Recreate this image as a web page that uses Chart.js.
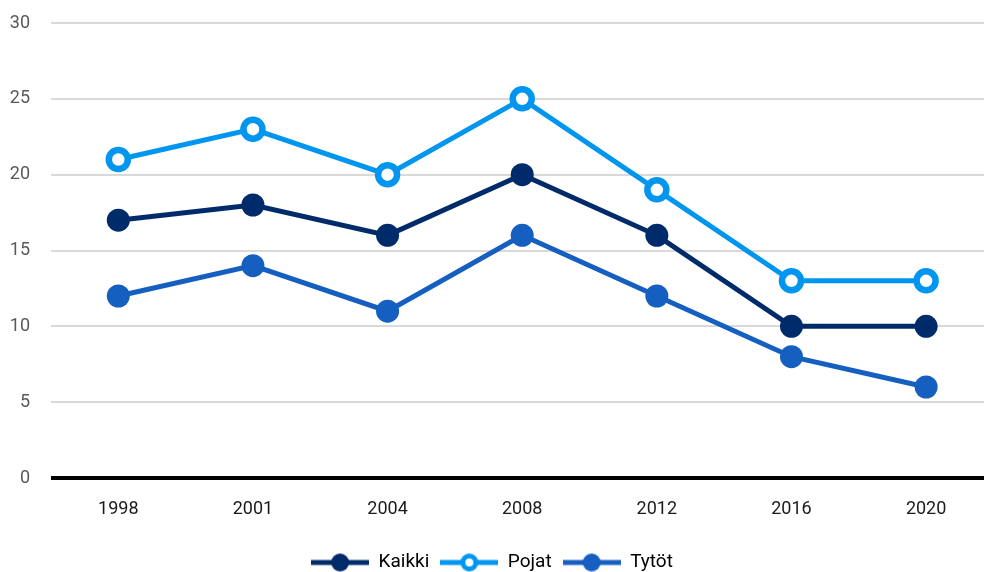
<!DOCTYPE html>
<html>
<head>
<meta charset="utf-8">
<script src="https://cdn.jsdelivr.net/npm/chart.js@4"></script>
<style>
  html, body { margin: 0; padding: 0; background: #fff; }
  #wrap { width: 984px; height: 572px; }
</style>
</head>
<body>
<div id="wrap"><canvas id="lineChart"></canvas></div>
<script>
const years = ['1998', '2001', '2004', '2008', '2012', '2016', '2020'];
const kaikki = [17, 18, 16, 20, 16, 10, 10];
const pojat = [21, 23, 20, 25, 19, 13, 13];
const tytot = [12, 14, 11, 16, 12, 8, 6];
const yTicks = [0, 5, 10, 15, 20, 25, 30];

const FONT = '"Liberation Sans Narrow", Roboto, sans-serif';

const toPoints = (arr) => arr.map((v, i) => ({ x: i, y: v }));

// small canvas image: line with a circle in the middle, for the legend
const legendIcon = (color, hollow) => {
    const c = document.createElement('canvas');
    c.width = 58; c.height = 24;
    const g = c.getContext('2d');
    g.strokeStyle = color;
    g.lineWidth = 5;
    g.beginPath(); g.moveTo(0, 12); g.lineTo(58, 12); g.stroke();
    g.beginPath(); g.arc(29, 12, hollow ? 6.5 : 9, 0, Math.PI * 2);
    if (hollow) { g.fillStyle = '#fff'; g.fill(); g.lineWidth = 5; g.stroke(); }
    else { g.fillStyle = color; g.fill(); }
    return c;
};

const series = [
    { label: 'Kaikki', data: kaikki, color: '#002b6b', hollow: false },
    { label: 'Pojat', data: pojat, color: '#0096f0', hollow: true },
    { label: 'Tytöt', data: tytot, color: '#155fc0', hollow: false }
];

const ctx = document.getElementById('lineChart').getContext('2d');
new Chart(ctx, {
    type: 'line',
    data: {
        datasets: series.map(s => ({
            label: s.label,
            data: toPoints(s.data),
            borderColor: s.color,
            backgroundColor: s.hollow ? '#ffffff' : s.color,
            pointBackgroundColor: s.hollow ? '#ffffff' : s.color,
            pointBorderColor: s.color,
            pointBorderWidth: s.hollow ? 6.5 : 0,
            pointRadius: s.hollow ? 9.5 : 11.5,
            pointHoverRadius: s.hollow ? 9.5 : 11.5,
            borderWidth: 5,
            tension: 0,
            clip: false,
            icon: legendIcon(s.color, s.hollow)
        }))
    },
    options: {
        responsive: true,
        maintainAspectRatio: false,
        animation: false,
        layout: { autoPadding: false, padding: { top: 23, right: 0, left: 0, bottom: -10 } },
        scales: {
            x: {
                type: 'linear',
                min: -0.5,
                max: 6.43,
                grid: { display: false },
                border: { display: false },
                afterBuildTicks: (scale) => {
                    scale.ticks = years.map((y, i) => ({ value: i }));
                },
                afterFit: (scale) => {
                    scale.paddingLeft = 0;
                    scale.paddingRight = 0;
                    scale.height = 64;
                },
                ticks: {
                    callback: (v) => years[v],
                    color: '#1a1a1a',
                    font: { family: FONT, size: 18 },
                    padding: 13,
                    maxRotation: 0
                }
            },
            y: {
                min: 0,
                max: 30,
                afterBuildTicks: (scale) => {
                    scale.ticks = yTicks.map(v => ({ value: v }));
                },
                afterFit: (scale) => {
                    scale.width = 51;
                    scale.paddingTop = 0;
                    scale.paddingBottom = 0;
                },
                grid: {
                    color: (c) => c.tick.value === 0 ? '#000000' : '#d9d9d9',
                    lineWidth: (c) => c.tick.value === 0 ? 4 : 2,
                    drawTicks: false
                },
                border: { display: false },
                ticks: {
                    color: '#595959',
                    font: { family: FONT, size: 18 },
                    padding: 21
                }
            }
        },
        plugins: {
            legend: {
                position: 'bottom',
                labels: {
                    usePointStyle: true,
                    pointStyleWidth: 58,
                    color: '#000',
                    font: { family: FONT, size: 19 },
                    padding: 11,
                    generateLabels: (chart) => chart.data.datasets.map((d, i) => ({
                        text: d.label,
                        pointStyle: d.icon,
                        fontColor: '#000',
                        datasetIndex: i,
                        lineWidth: 0,
                        strokeStyle: 'transparent',
                        fillStyle: 'transparent'
                    }))
                }
            },
            tooltip: { enabled: false }
        }
    }
});
</script>
</body>
</html>
